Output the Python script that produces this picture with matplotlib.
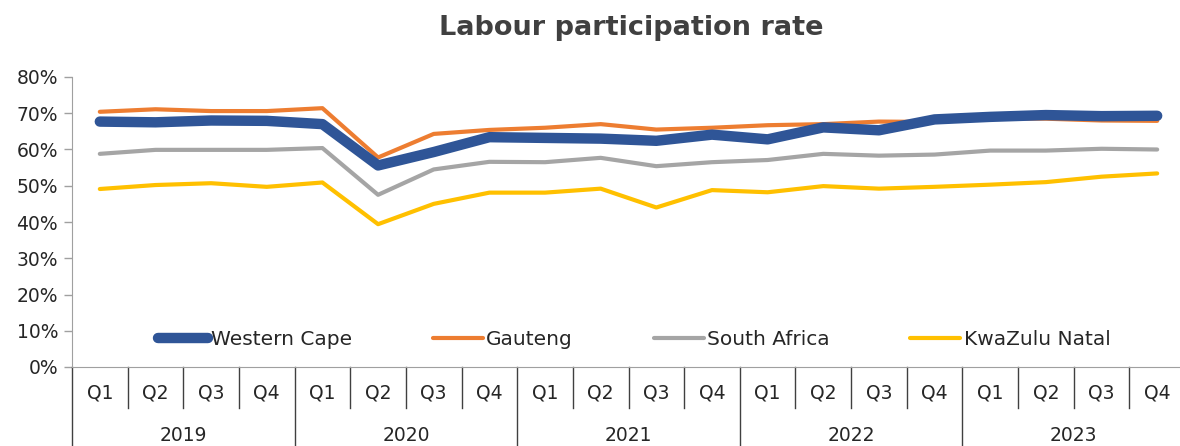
import numpy as np
import matplotlib.pyplot as plt
import matplotlib.transforms as mtransforms

#---------DATA------------
years = ['2019', '2020', '2021', '2022', '2023']
quarters = ['Q1', 'Q2', 'Q3', 'Q4']

western_cape = [67.7, 67.5, 68.0, 67.9, 67.0, 55.6, 59.3, 63.4, 63.2, 63.0,
                62.4, 64.1, 62.8, 66.1, 65.3, 68.3, 69.0, 69.5, 69.2, 69.3]
gauteng = [70.4, 71.1, 70.6, 70.6, 71.4, 57.8, 64.3, 65.4, 66.0, 67.0,
           65.5, 66.0, 66.7, 67.0, 67.7, 67.6, 68.6, 68.5, 68.0, 67.9]
south_africa = [58.8, 59.9, 59.9, 59.9, 60.4, 47.5, 54.5, 56.6, 56.5, 57.7,
                55.4, 56.5, 57.1, 58.8, 58.3, 58.6, 59.7, 59.7, 60.2, 60.0]
kwazulu_natal = [49.1, 50.2, 50.7, 49.7, 50.9, 39.4, 45.0, 48.1, 48.1, 49.2,
                 44.0, 48.8, 48.2, 49.9, 49.2, 49.7, 50.3, 51.0, 52.5, 53.4]

series = [
    ('Western Cape', western_cape, '#2F5597', 7.5),
    ('Gauteng', gauteng, '#ED7D31', 3.0),
    ('South Africa', south_africa, '#A5A5A5', 3.0),
    ('KwaZulu Natal', kwazulu_natal, '#FFC000', 3.0),
]

plt.rcParams['font.family'] = ['DejaVu Sans']

#---------PLOT------------
fig = plt.figure(figsize=(11.8, 4.46), dpi=100)
ax = fig.add_axes([72/1180, 79/446, 1113/1180, 290/446])

n = len(years) * len(quarters)
x = np.arange(n)

# thin lines first, thick blue line on top
for name, vals, col, lw in series[1:]:
    ax.plot(x, np.array(vals) / 100, color=col, lw=lw, label=name,
            solid_capstyle='round', solid_joinstyle='round')
name, vals, col, lw = series[0]
ax.plot(x, np.array(vals) / 100, color=col, lw=lw, label=name,
        solid_capstyle='round', solid_joinstyle='round', zorder=3)

ax.set_xlim(-0.5, n - 0.5)
ax.set_ylim(0, 0.8)
yt = np.arange(0, 0.81, 0.1)
ax.set_yticks(yt)
ax.set_yticklabels([f'{int(round(v*100))}%' for v in yt], fontsize=13.5, color='#262626')
ax.tick_params(axis='y', length=6, width=1, color='#A0A0A0', pad=4)

for side in ['top', 'right']:
    ax.spines[side].set_visible(False)
ax.spines['left'].set_color('#A0A0A0')
ax.spines['bottom'].set_color('#A0A0A0')

# two-level category axis
ax.set_xticks(x)
ax.set_xticklabels(quarters * len(years), fontsize=13.5, color='#262626')
ax.tick_params(axis='x', length=0, pad=12)

trans = mtransforms.blended_transform_factory(ax.transData, ax.transAxes)
for i in range(n + 1):
    b = i - 0.5
    depth = -0.28 if i % 4 == 0 else -0.14
    ax.plot([b, b], [0, depth], transform=trans, color='#404040', lw=1, clip_on=False)
for j, yr in enumerate(years):
    ax.text(j * 4 + 1.5, -0.235, yr, transform=trans, ha='center', va='center',
            fontsize=13.5, color='#262626')

# legend
handles, labels = ax.get_legend_handles_labels()
order = [3, 0, 1, 2]
ax.legend([handles[i] for i in order], [labels[i] for i in order],
          loc='lower center', bbox_to_anchor=(0.505, 0.0), ncol=4, frameon=False,
          fontsize=14.5, handlelength=2.5, handletextpad=0.15, columnspacing=4.0,
          labelcolor='#262626')

fig.text(0.535, 0.938, 'Labour participation rate', ha='center', va='center',
         fontsize=19.5, fontweight='bold', color='#404040')

plt.savefig('out.png', dpi=100)
